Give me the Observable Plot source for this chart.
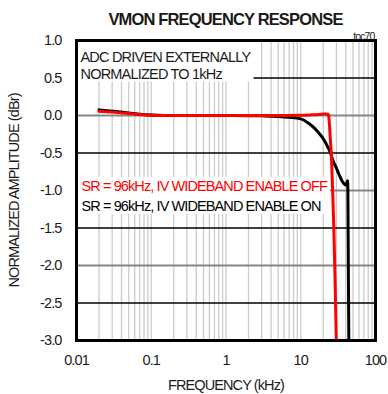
<!DOCTYPE html>
<html><head><meta charset="utf-8">
<script src="https://cdn.jsdelivr.net/npm/d3@7"></script>
<script src="https://cdn.jsdelivr.net/npm/@observablehq/plot@0.6"></script>
<style>
body{margin:0;background:#fff;width:388px;height:394px;overflow:hidden;position:relative;
 font-family:"Liberation Sans",Arial,sans-serif;}
#title{position:absolute;top:9px;left:76px;width:299px;text-align:center;font-size:16.5px;letter-spacing:-0.85px;line-height:20px;font-weight:bold;color:#1a1a1a;white-space:nowrap}
#chart{position:absolute;top:28px;left:0}
#chart svg text{letter-spacing:-0.9px}
#chart svg g[aria-description="note"] text{letter-spacing:-0.8px}
</style></head>
<body>
<div id="title">VMON FREQUENCY RESPONSE</div>
<div id="chart"></div>
<script>
// Black: SR = 96kHz, IV WIDEBAND ENABLE ON
const freqOn = [0.02, 0.03, 0.05, 0.07, 0.1, 0.15, 0.2, 0.5, 1, 2, 3, 5, 7, 10, 13, 16, 18, 20, 23, 25, 26.5, 28, 30, 32, 34, 36, 38, 39.5, 40.8, 41.6, 42.3, 42.7, 43.3, 44];
const ampOn  = [0.075, 0.058, 0.035, 0.018, 0.006, 0.0, 0.0, 0.0, 0.0, -0.002, -0.005, -0.012, -0.024, -0.045, -0.11, -0.19, -0.25, -0.31, -0.42, -0.5, -0.58, -0.64, -0.7, -0.77, -0.83, -0.88, -0.91, -0.925, -0.92, -0.89, -0.87, -1.0, -2.0, -3.0];
// Red: SR = 96kHz, IV WIDEBAND ENABLE OFF
const freqOff = [0.02, 0.03, 0.05, 0.07, 0.1, 0.15, 0.2, 0.5, 1, 2, 5, 10, 13, 15, 18, 20, 22, 23, 23.6, 24.2, 24.8, 25.6, 26.7, 27.7, 28.8, 29.9];
const ampOff  = [0.057, 0.045, 0.027, 0.014, 0.004, 0.0, 0.0, 0.0, 0.0, 0.0, 0.0, 0.002, 0.006, 0.01, 0.015, 0.02, 0.021, 0.017, 0.0, -0.12, -0.3, -0.5, -1.0, -1.5, -2.2, -3.0];

const xTicks = [0.01, 0.1, 1, 10, 100];
const xTickLabels = ["0.01", "0.1", "1", "10", "100"];
const yTicks = [1.0, 0.5, 0.0, -0.5, -1.0, -1.5, -2.0, -2.5, -3.0];
const yTickLabels = ["1.0", "0.5", "0.0", "-0.5", "-1.0", "-1.5", "-2.0", "-2.5", "-3.0"];
const xGrid = [0.02,0.03,0.04,0.05,0.06,0.07,0.08,0.09,0.1,0.2,0.3,0.4,0.5,0.6,0.7,0.8,0.9,1,2,3,4,5,6,7,8,9,10,20,30,40,50,60,70,80,90];
const yGridBlack = [0.5, -0.5, -1.5, -2.5];
const yGridGray = [0.0, -1.0, -2.0];
const seriesNames = ["SR = 96kHz, IV WIDEBAND ENABLE OFF", "SR = 96kHz, IV WIDEBAND ENABLE ON"];
const seriesColors = ["#ff0000", "#000000"];
const noteLines = ["ADC DRIVEN EXTERNALLY", "NORMALIZED TO 1kHz"];

(function () {
const on = freqOn.map((f, i) => ({f, a: ampOn[i]}));
const off = freqOff.map((f, i) => ({f, a: ampOff[i]}));

const FONT = '"Liberation Sans",Arial,sans-serif';
const FS = 14.5;

const chart = Plot.plot({
  width: 388,
  height: 366,
  marginLeft: 76,
  marginRight: 13,
  marginTop: 12,
  marginBottom: 54,
  style: {fontFamily: FONT, fontSize: FS + "px", color: "#1a1a1a", background: "white"},
  x: {type: "log", domain: [0.01, 100], axis: null},
  y: {domain: [-3, 1], axis: null},
  marks: [
    Plot.ruleX(xGrid, {stroke: "#cccccc", strokeWidth: 1.3}),
    Plot.ruleY(yGridBlack, {stroke: "#000", strokeWidth: 1.3}),
    Plot.ruleY(yGridGray, {stroke: "#858585", strokeWidth: 2.2}),
    Plot.text([noteLines.join("\n")], {frameAnchor: "top-left", dx: 4, dy: 9, lineAnchor: "top", lineHeight: 1.17, fontSize: FS, fill: "#1a1a1a", textAnchor: "start", ariaDescription: "note"}),
    Plot.text([seriesNames[0]], {frameAnchor: "top-left", dx: 5, dy: 140, lineAnchor: "top", fontSize: FS, fill: seriesColors[0], textAnchor: "start", ariaDescription: "legend"}),
    Plot.text([seriesNames[1]], {frameAnchor: "top-left", dx: 5, dy: 160, lineAnchor: "top", fontSize: FS, fill: seriesColors[1], textAnchor: "start", ariaDescription: "legend"}),
    Plot.line(on, {x: "f", y: "a", stroke: seriesColors[1], strokeWidth: 3, curve: "monotone-x"}),
    Plot.line(off, {x: "f", y: "a", stroke: seriesColors[0], strokeWidth: 3, curve: "monotone-x"}),
    Plot.frame({stroke: "#000", strokeWidth: 3}),
    Plot.text(xTicks, {x: d => d, frameAnchor: "bottom", dy: 20, lineAnchor: "middle", text: (d, i) => xTickLabels[i], fontSize: FS, fill: "#1a1a1a"}),
    Plot.text(yTicks, {y: d => d, frameAnchor: "left", dx: -15, textAnchor: "end", lineAnchor: "middle", text: (d, i) => yTickLabels[i], fontSize: FS, fill: "#1a1a1a"}),
    Plot.text(["FREQUENCY (kHz)"], {frameAnchor: "bottom", dy: 45, lineAnchor: "middle", fontSize: FS, fill: "#1a1a1a"}),
    Plot.text(["NORMALIZED AMPLITUDE (dBr)"], {frameAnchor: "left", dx: -62, rotate: -90, textAnchor: "middle", lineAnchor: "middle", fontSize: FS, fill: "#1a1a1a"}),
    Plot.text(["toc70"], {frameAnchor: "top-right", dx: -1, dy: -8, fontSize: 10.5, fill: "#1a1a1a", textAnchor: "end"})
  ]
});
document.getElementById("chart").appendChild(chart);

// White backgrounds behind the annotation texts, sized from the rendered text
const svgRect = chart.getBoundingClientRect();
const xr = chart.scale("x").range, yr = chart.scale("y").range;
const frameLeft = Math.min(...xr) + 1, frameTop = Math.min(...yr) + 1;
function boxFor(label, fromTop) {
  const groups = [...chart.querySelectorAll(`g[aria-description="${label}"]`)];
  if (!groups.length) return;
  let r = -Infinity, t = Infinity, b = -Infinity;
  groups.forEach(g => { const bb = g.getBoundingClientRect(); r = Math.max(r, bb.right); t = Math.min(t, bb.top); b = Math.max(b, bb.bottom); });
  const rect = document.createElementNS("http://www.w3.org/2000/svg", "rect");
  const y0 = fromTop ? frameTop : t - svgRect.top - 1;
  rect.setAttribute("x", frameLeft);
  rect.setAttribute("y", y0);
  rect.setAttribute("width", Math.max(0, r - svgRect.left + 2 - frameLeft));
  rect.setAttribute("height", Math.max(0, b - svgRect.top - y0));
  rect.setAttribute("fill", "white");
  groups[0].parentNode.insertBefore(rect, groups[0]);
}
boxFor("note", true);
boxFor("legend", false);
})();
</script>
</body></html>
